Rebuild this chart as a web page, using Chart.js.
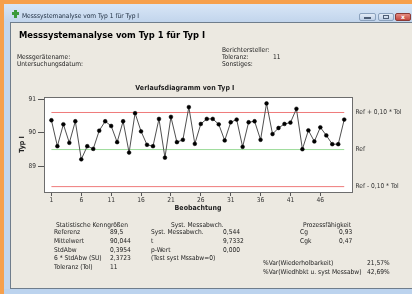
<!DOCTYPE html>
<html><head><meta charset="utf-8">
<script src="https://cdn.jsdelivr.net/npm/chart.js@4.4.1/dist/chart.umd.min.js"></script>
<style>
html,body{margin:0;padding:0;}
body{width:412px;height:294px;position:relative;overflow:hidden;background:#ece9e1;
 font-family:"DejaVu Sans Condensed","DejaVu Sans",sans-serif;font-stretch:condensed;color:#222;}
.a{position:absolute;}
.t{position:absolute;white-space:nowrap;font-size:6.6px;line-height:8px;height:8px;}
#chart{position:absolute;left:0;top:0;}
</style></head><body>
<div class="a" style="left:0;top:0;width:412px;height:4px;background:#f6a04c"></div>
<div class="a" style="left:0;top:0;width:4px;height:294px;background:#f6a04c"></div>
<div class="a" style="left:4px;top:4px;width:408px;height:18px;background:linear-gradient(#d8e6f6,#c2d5ec)"></div>
<div class="a" style="left:4px;top:22px;width:6px;height:272px;background:#c3d6ec"></div>
<div class="a" style="left:10px;top:22px;width:402px;height:1px;background:#6f7d8c"></div>
<div class="a" style="left:10px;top:22px;width:1px;height:267px;background:#6f7d8c"></div>
<div class="a" style="left:10px;top:288px;width:402px;height:1px;background:#6f7d8c"></div>
<div class="a" style="left:4px;top:289px;width:408px;height:5px;background:#bcd3ee"></div>
<!-- icon -->
<div class="a" style="left:14px;top:10px;width:3px;height:8px;background:#3c9a3c"></div>
<div class="a" style="left:12px;top:12px;width:7px;height:3px;background:#3c9a3c"></div>
<!-- buttons -->
<div class="a" style="left:359px;top:13px;width:17px;height:8px;border:1px solid #8aa1bd;border-radius:2px;box-sizing:border-box;background:linear-gradient(#e2ebf6,#bfd0e6)"></div>
<div class="a" style="left:364px;top:17px;width:7px;height:2px;background:#4d5d75"></div>
<div class="a" style="left:378px;top:13px;width:16px;height:8px;border:1px solid #8aa1bd;border-radius:2px;box-sizing:border-box;background:linear-gradient(#e2ebf6,#bfd0e6)"></div>
<div class="a" style="left:383px;top:15px;width:6px;height:4px;border:1px solid #4d5d75;box-sizing:border-box"></div>
<div class="a" style="left:395px;top:13px;width:16px;height:8px;border:1px solid #8a3a36;border-radius:2px;box-sizing:border-box;background:linear-gradient(#e48a80,#c4473f)"></div>
<div class="a" style="left:400px;top:14px;width:6px;height:6px;color:#fff;font:bold 6px 'DejaVu Sans';line-height:6px;text-align:center">x</div>
<canvas id="chart" width="412" height="294"></canvas>
<script>
// ---- data ----
const values = [90.37,89.60,90.25,89.70,90.34,89.21,89.60,89.52,90.06,90.34,
                90.20,89.72,90.34,89.41,90.58,90.04,89.64,89.60,90.41,89.26,
                90.47,89.72,89.79,90.76,89.67,90.26,90.41,90.41,90.25,89.77,
                90.31,90.39,89.58,90.31,90.34,89.79,90.87,89.96,90.14,90.26,
                90.30,90.71,89.51,90.07,89.74,90.16,89.92,89.66,89.66,90.39];
const observations = values.map((v, i) => i + 1);
const refValue = 89.5;
const tolerance = 11;
const refLevels = [refValue + 0.10 * tolerance, refValue, refValue - 0.10 * tolerance];
const refLabels = ["Ref + 0,10 * Tol", "Ref", "Ref - 0,10 * Tol"];
const refColors = ["#ef7b7b", "#9ddc9b", "#ef7b7b"];
const xTicks = [1, 6, 11, 16, 21, 26, 31, 36, 41, 46];
const yTicks = [89, 90, 91];

const headerTexts = [
  ["Messsystemanalyse vom Typ 1 für Typ I", 22, 15.7, "title"],
  ["Messsystemanalyse vom Typ 1 für Typ I", 19, 34.5, "big"],
  ["Berichtersteller:", 222, 49.7],
  ["Messgerätename:", 17, 56.7],
  ["Toleranz:", 222, 56.7],
  ["11", 273, 56.7],
  ["Untersuchungsdatum:", 17, 63.7],
  ["Sonstiges:", 222, 63.7]
];
const statRows = [232.3, 241, 249.7, 258.3, 267];
const statLeftLabels = ["Referenz", "Mittelwert", "StdAbw", "6 * StdAbw (SU)", "Toleranz (Tol)"];
const statLeftValues = ["89,5", "90,044", "0,3954", "2,3723", "11"];
const statMidLabels = ["Syst. Messabwch.", "t", "p-Wert", "(Test syst Mssabw=0)"];
const statMidValues = ["0,544", "9,7332", "0,000"];
const statRightLabels = ["Cg", "Cgk"];
const statRightValues = ["0,93", "0,47"];
const varLabels = ["%Var(Wiederholbarkeit)", "%Var(Wiedhbkt u. syst Messabw)"];
const varValues = ["21,57%", "42,69%"];
const varRows = [262.7, 271.7];

function txt(s, x, cy, kind) {
  const d = document.createElement('div');
  d.className = 't';
  d.textContent = s;
  d.style.left = x + 'px';
  if (kind === 'big') {
    d.style.fontSize = '9.3px'; d.style.fontWeight = 'bold'; d.style.lineHeight = '12px'; d.style.height = '12px';
    d.style.top = (cy - 6) + 'px'; d.style.color = '#000';
  } else {
    d.style.top = (cy - 4) + 'px';
    if (kind === 'title') d.style.color = '#1b2a3c';
  }
  document.body.appendChild(d);
}
headerTexts.forEach(h => txt(h[0], h[1], h[2], h[3]));
txt("Statistische Kenngrößen", 56, 225);
statLeftLabels.forEach((s, i) => txt(s, 54, statRows[i]));
statLeftValues.forEach((s, i) => txt(s, 110, statRows[i]));
txt("Syst. Messabwch.", 171, 225);
statMidLabels.forEach((s, i) => txt(s, 151, statRows[i]));
statMidValues.forEach((s, i) => txt(s, 223, statRows[i]));
txt("Prozessfähigkeit", 303, 225);
statRightLabels.forEach((s, i) => txt(s, 300, statRows[i]));
statRightValues.forEach((s, i) => txt(s, 339, statRows[i]));
varLabels.forEach((s, i) => txt(s, 263, varRows[i]));
varValues.forEach((s, i) => txt(s, 367, varRows[i]));

const FONT = '"DejaVu Sans Condensed","DejaVu Sans",sans-serif';

const plotFrame = {
  id: 'plotFrame',
  beforeDatasetsDraw(chart) {
    const {ctx, chartArea: a} = chart;
    ctx.save();
    ctx.fillStyle = '#ffffff';
    ctx.fillRect(a.left, a.top, a.right - a.left, a.bottom - a.top);
    ctx.restore();
  },
  afterDatasetsDraw(chart) {
    const {ctx, chartArea: a, scales} = chart;
    ctx.save();
    ctx.strokeStyle = '#6d6d6d';
    ctx.lineWidth = 1;
    ctx.strokeRect(Math.round(a.left) + 0.5, Math.round(a.top) + 0.5, Math.round(a.right - a.left), Math.round(a.bottom - a.top));
    ctx.fillStyle = '#333';
    ctx.font = '6.6px ' + FONT;
    ctx.textBaseline = 'middle';
    ctx.textAlign = 'left';
    refLevels.forEach((v, i) => {
      ctx.fillText(refLabels[i], a.right + 3.5, scales.y.getPixelForValue(v));
    });
    ctx.restore();
  }
};

const datasets = refLevels.map((v, i) => ({
  data: [{x: observations[0], y: v}, {x: observations[observations.length - 1], y: v}],
  borderColor: refColors[i], borderWidth: 1, pointRadius: 0, fill: false, order: 2
}));
datasets.push({
  data: values.map((v, i) => ({x: observations[i], y: v})),
  borderColor: '#505050', borderWidth: 1,
  pointRadius: 1.9, pointBackgroundColor: '#000', pointBorderColor: '#000', pointBorderWidth: 0.5,
  fill: false, order: 1
});

new Chart(document.getElementById('chart'), {
  type: 'line',
  data: {datasets},
  options: {
    responsive: false, animation: false, devicePixelRatio: 1,
    layout: {padding: {left: 17.8, right: 60, top: 83, bottom: 81.5}},
    plugins: {
      legend: {display: false}, tooltip: {enabled: false},
      title: {display: true, text: 'Verlaufsdiagramm von Typ I', color: '#222',
        font: {family: FONT, size: 7, weight: 'bold', lineHeight: 1.2}, padding: {top: 0.5, bottom: 5.1}}
    },
    scales: {
      x: {
        type: 'linear', min: -0.24, max: 51.3,
        afterBuildTicks(s) { s.ticks = xTicks.map(v => ({value: v})); },
        afterFit(s) { s.height = 20.5; },
        grid: {display: true, drawOnChartArea: false, drawTicks: true, tickLength: 4, color: '#555'},
        border: {display: false},
        ticks: {autoSkip: false, maxRotation: 0, padding: 0, color: '#333', font: {family: FONT, size: 6.6, lineHeight: 1.2}},
        title: {display: true, text: 'Beobachtung', color: '#222', padding: 0, font: {family: FONT, size: 7, weight: 'bold', lineHeight: 1.2}}
      },
      y: {
        min: 88.24, max: 91.06,
        afterBuildTicks(s) { s.ticks = yTicks.map(v => ({value: v})); },
        afterFit(s) { s.width = 26.2; },
        grid: {display: true, drawOnChartArea: false, drawTicks: true, tickLength: 6, color: '#555'},
        border: {display: false},
        ticks: {padding: 2, color: '#333', font: {family: FONT, size: 6.6, lineHeight: 1.2}},
        title: {display: true, text: 'Typ I', color: '#222', padding: 0, font: {family: FONT, size: 7, weight: 'bold', lineHeight: 1.2}}
      }
    }
  },
  plugins: [plotFrame]
});
</script>
</body></html>
